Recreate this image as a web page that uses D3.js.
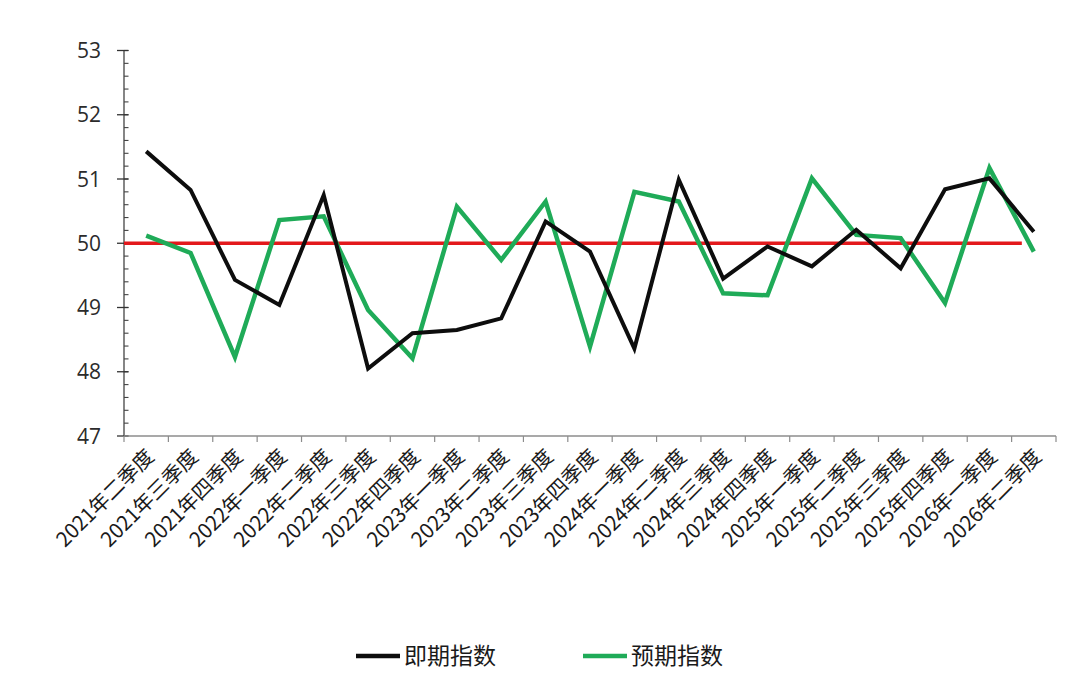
<!DOCTYPE html>
<html>
<head>
<meta charset="utf-8">
<script src="https://cdn.jsdelivr.net/npm/d3@7"></script>
<style>
  body { margin: 0; background: #fff; }
  svg { display: block; }
</style>
</head>
<body>
<svg id="chart" width="1080" height="678"></svg>
<script>
// quarters on the x axis
const quarters = [
    "2021年二季度", "2021年三季度", "2021年四季度",
    "2022年一季度", "2022年二季度", "2022年三季度", "2022年四季度",
    "2023年一季度", "2023年二季度", "2023年三季度", "2023年四季度",
    "2024年一季度", "2024年二季度", "2024年三季度", "2024年四季度",
    "2025年一季度", "2025年二季度", "2025年三季度", "2025年四季度",
    "2026年一季度", "2026年二季度"
];

// 即期指数
const currentIndex = [51.43, 50.83, 49.43, 49.04, 50.75, 48.05, 48.6, 48.65, 48.83, 50.34, 49.87,
    48.36, 50.99, 49.45, 49.95, 49.64, 50.21, 49.61, 50.84, 51.01, 50.18];

// 预期指数
const expectedIndex = [50.12, 49.85, 48.23, 50.36, 50.42, 48.96, 48.21, 50.57, 49.74, 50.65, 48.39,
    50.8, 50.65, 49.22, 49.19, 51.01, 50.13, 50.08, 49.07, 51.17, 49.87];

const baseline = 50;
const yTicks = [47, 48, 49, 50, 51, 52, 53];
const seriesNames = ["即期指数", "预期指数"];

const black = "#0d0d0d";
const green = "#1fab58";
const red = "#e3191c";

const svg = d3.select("#chart");

const x = d3.scaleBand().domain(quarters).range([124, 1056]).padding(0);
const y = d3.scaleLinear().domain([47, 53]).range([436, 50.5]);
const cx = d => x(d) + x.bandwidth() / 2;

// y axis
svg.append("line")
    .attr("x1", 124).attr("x2", 124)
    .attr("y1", y(47)).attr("y2", y(53))
    .attr("stroke", "#444").attr("stroke-width", 1.3);

// minor ticks every 0.2
svg.append("g").selectAll("line")
    .data(d3.range(47, 53.001, 0.2))
    .enter().append("line")
    .attr("x1", 124).attr("x2", 128.5)
    .attr("y1", d => y(d)).attr("y2", d => y(d))
    .attr("stroke", "#444").attr("stroke-width", 1.1);

svg.append("g").selectAll("line")
    .data(yTicks)
    .enter().append("line")
    .attr("x1", 117).attr("x2", 128.5)
    .attr("y1", d => y(d)).attr("y2", d => y(d))
    .attr("stroke", "#333").attr("stroke-width", 1.3);

svg.append("g").selectAll("text")
    .data(yTicks)
    .enter().append("text")
    .attr("x", 101).attr("y", d => y(d))
    .attr("dy", "0.36em")
    .attr("text-anchor", "end")
    .style("font-family", "'Open Sans', 'Liberation Sans', sans-serif")
    .style("font-size", "21px")
    .style("fill", "#2b2b2b")
    .text(d => d);

// x axis
svg.append("line")
    .attr("x1", 124).attr("x2", 1056)
    .attr("y1", y(47)).attr("y2", y(47))
    .attr("stroke", "#8c8c8c").attr("stroke-width", 1.3);

svg.append("g").selectAll("line")
    .data(quarters.concat(["end"]))
    .enter().append("line")
    .attr("x1", (d, i) => 124 + i * x.bandwidth())
    .attr("x2", (d, i) => 124 + i * x.bandwidth())
    .attr("y1", y(47)).attr("y2", y(47) + 6)
    .attr("stroke", "#8c8c8c").attr("stroke-width", 1.2);

svg.append("g").selectAll("text")
    .data(quarters)
    .enter().append("text")
    .attr("transform", d => "translate(" + (cx(d) + 9) + "," + (y(47) + 22) + ") rotate(-45)")
    .attr("text-anchor", "end")
    .style("font-family", "'Noto Sans CJK SC', sans-serif")
    .style("font-size", "20.5px")
    .style("fill", "#1a1a1a")
    .text(d => d);

// 50 reference line
svg.append("line")
    .attr("x1", x.range()[0])
    .attr("x2", cx(quarters[quarters.length - 1]) - x.bandwidth() * 0.27)
    .attr("y1", y(baseline)).attr("y2", y(baseline))
    .attr("stroke", red).attr("stroke-width", 3.5);

const line = d3.line()
    .x((d, i) => cx(quarters[i]))
    .y(d => y(d));

svg.append("path")
    .datum(expectedIndex)
    .attr("d", line)
    .attr("fill", "none")
    .attr("stroke", green)
    .attr("stroke-width", 4.5)
    .attr("stroke-linejoin", "miter");

svg.append("path")
    .datum(currentIndex)
    .attr("d", line)
    .attr("fill", "none")
    .attr("stroke", black)
    .attr("stroke-width", 4)
    .attr("stroke-linejoin", "miter");

// legend
const legendItems = [
    { name: seriesNames[0], color: black, x: 356 },
    { name: seriesNames[1], color: green, x: 583 }
];
const lg = svg.append("g").selectAll("g")
    .data(legendItems)
    .enter().append("g")
    .attr("transform", d => "translate(" + d.x + ",656)");
lg.append("line")
    .attr("x1", 0).attr("x2", 44)
    .attr("y1", 0).attr("y2", 0)
    .attr("stroke", d => d.color)
    .attr("stroke-width", 4.5);
lg.append("text")
    .attr("x", 48).attr("y", 0)
    .attr("dy", "0.36em")
    .style("font-family", "'Noto Sans CJK SC', sans-serif")
    .style("font-size", "23px")
    .style("fill", "#1a1a1a")
    .text(d => d.name);
</script>
</body>
</html>
